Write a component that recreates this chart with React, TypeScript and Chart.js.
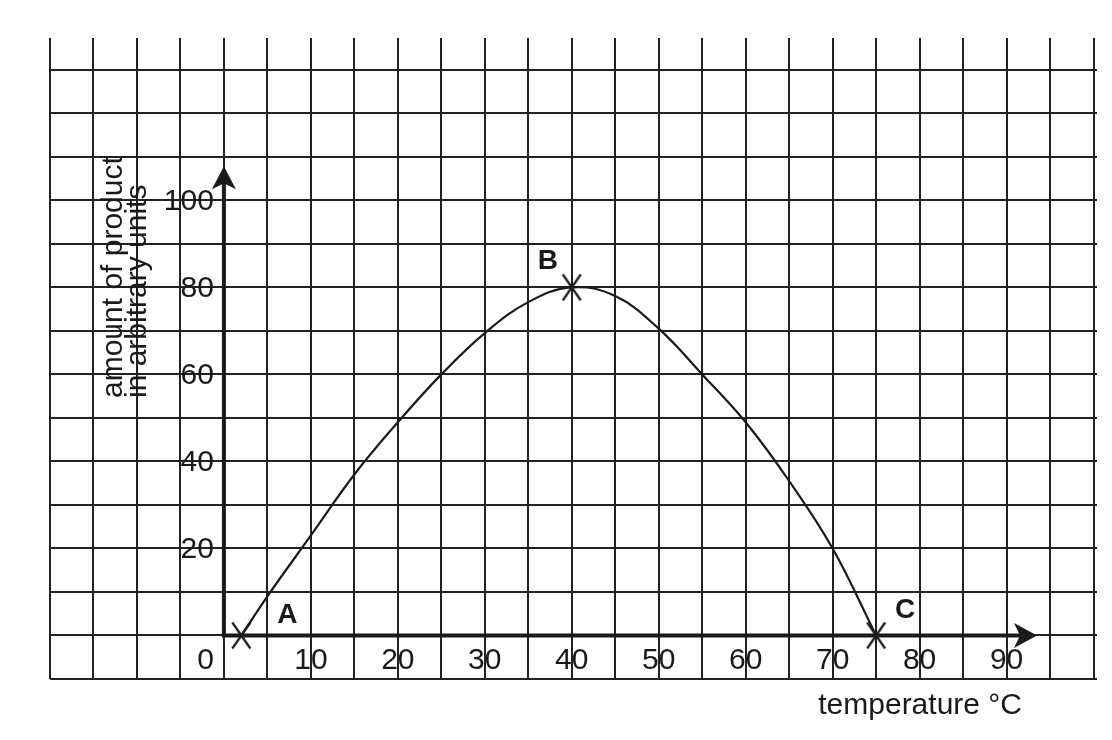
import React, { useEffect, useRef } from "react";
import { Chart, registerables } from "chart.js";

Chart.register(...registerables);

// Curve (temperature °C, amount of product)
const curveX = [2, 5, 10, 15, 20, 25, 30, 35, 40, 45, 50, 55, 60, 65, 70, 75];
const curveY = [0, 9, 23, 37, 49, 60, 69.5, 76.6, 80, 78, 70.5, 60, 49, 35.5, 20, 0];

// Marked points A, B, C
const markLabels = ["A", "B", "C"];
const markX = [2, 40, 75];
const markY = [0, 80, 0];

// Axis tick labels
const xTickLabels = [10, 20, 30, 40, 50, 60, 70, 80, 90];
const yTickLabels = [20, 40, 60, 80, 100];
const originLabel = "0";
const xTitle = "temperature °C";
const yTitleLines = ["amount of product", "in arbitrary units"];

// Extent of the graph paper and the axes
const xMin = -20;
const xMax = 100.4;
const yMin = -10;
const yMax = 137.3;
const xArrowEnd = 93.5;
const yArrowEnd = 107.8;

const INK = "#1a1a1a";
const FONT = '"Liberation Sans", Arial, Helvetica, sans-serif';

function makeCross(): HTMLCanvasElement {
  const c = document.createElement("canvas");
  c.width = 21;
  c.height = 29;
  const g = c.getContext("2d")!;
  g.strokeStyle = INK;
  g.lineWidth = 2.2;
  g.lineCap = "butt";
  g.beginPath();
  g.moveTo(1.5, 1.5);
  g.lineTo(19.5, 27.5);
  g.moveTo(19.5, 1.5);
  g.lineTo(1.5, 27.5);
  g.stroke();
  return c;
}

const axesPlugin = {
  id: "axesPlugin",
  beforeDatasetsDraw(chart: any) {
    const { ctx, scales } = chart;
    const xs = scales.x;
    const ys = scales.y;
    const ox = xs.getPixelForValue(0);
    const oy = ys.getPixelForValue(0);
    const yTop = ys.getPixelForValue(yArrowEnd);
    const xRight = xs.getPixelForValue(xArrowEnd);
    ctx.save();
    ctx.strokeStyle = INK;
    ctx.fillStyle = INK;
    ctx.lineWidth = 4;
    ctx.lineCap = "butt";
    ctx.beginPath();
    ctx.moveTo(ox, yTop + 14);
    ctx.lineTo(ox, oy);
    ctx.lineTo(xRight - 14, oy);
    ctx.stroke();
    // y arrow head
    ctx.beginPath();
    ctx.moveTo(ox, yTop);
    ctx.lineTo(ox + 12, yTop + 23);
    ctx.lineTo(ox, yTop + 17);
    ctx.lineTo(ox - 12, yTop + 23);
    ctx.closePath();
    ctx.fill();
    // x arrow head
    ctx.beginPath();
    ctx.moveTo(xRight, oy);
    ctx.lineTo(xRight - 23, oy - 12.5);
    ctx.lineTo(xRight - 17, oy);
    ctx.lineTo(xRight - 23, oy + 12.5);
    ctx.closePath();
    ctx.fill();
    ctx.restore();
  },
  afterDraw(chart: any) {
    const { ctx, scales } = chart;
    const xs = scales.x;
    const ys = scales.y;
    const ox = xs.getPixelForValue(0);
    const oy = ys.getPixelForValue(0);
    ctx.save();
    ctx.fillStyle = INK;
    ctx.font = `30px ${FONT}`;
    // y tick labels
    ctx.textAlign = "right";
    ctx.textBaseline = "middle";
    yTickLabels.forEach((v) => {
      ctx.fillText(String(v), ox - 10, ys.getPixelForValue(v) + 1);
    });
    ctx.fillText(originLabel, ox - 10, oy + 25);
    // x tick labels
    ctx.textAlign = "center";
    xTickLabels.forEach((v) => {
      ctx.fillText(String(v), xs.getPixelForValue(v), oy + 25);
    });
    // x title
    ctx.textAlign = "right";
    ctx.fillText(xTitle, 1022, 706);
    // y title
    ctx.save();
    ctx.translate(122, 398);
    ctx.rotate(-Math.PI / 2);
    ctx.textAlign = "left";
    ctx.textBaseline = "alphabetic";
    ctx.fillText(yTitleLines[0], 0, 0);
    ctx.fillText(yTitleLines[1], 0, 24);
    ctx.restore();
    // point labels
    ctx.font = `bold 28px ${FONT}`;
    ctx.textAlign = "center";
    ctx.textBaseline = "middle";
    const offsets = [
      [46, -20],
      [-24, -26],
      [29, -25],
    ];
    markLabels.forEach((lab, i) => {
      const px = xs.getPixelForValue(markX[i]);
      const py = ys.getPixelForValue(markY[i]);
      ctx.fillText(lab, px + offsets[i][0], py + offsets[i][1]);
    });
    ctx.restore();
  },
};

export default function App() {
  const ref = useRef<HTMLCanvasElement | null>(null);
  useEffect(() => {
    if (!ref.current) return;
    const cross = makeCross();
    const chart = new Chart(ref.current, {
      type: "line",
      data: {
        datasets: [
          {
            data: curveX.map((x, i) => ({ x, y: curveY[i] })),
            borderColor: INK,
            borderWidth: 2.2,
            pointRadius: 0,
            tension: 0.4,
            fill: false,
          },
          {
            data: markX.map((x, i) => ({ x, y: markY[i] })),
            showLine: false,
            pointStyle: cross as any,
            pointRadius: 10,
            borderColor: INK,
          },
        ],
      },
      options: {
        animation: false,
        responsive: false,
        events: [],
        layout: { padding: { left: 50, right: 15, top: 38, bottom: 61 } },
        plugins: { legend: { display: false }, tooltip: { enabled: false } },
        scales: {
          x: {
            type: "linear",
            min: xMin,
            max: xMax,
            ticks: { display: false, stepSize: 5, includeBounds: false },
            grid: { color: "#222", lineWidth: 2, drawTicks: false },
            border: { display: false },
            afterFit: (s: any) => {
              s.height = 0;
            },
          },
          y: {
            type: "linear",
            min: yMin,
            max: yMax,
            ticks: { display: false, stepSize: 10, includeBounds: false },
            grid: { color: "#222", lineWidth: 2, drawTicks: false },
            border: { display: false },
            afterFit: (s: any) => {
              s.width = 0;
            },
          },
        },
      },
      plugins: [axesPlugin],
    });
    return () => chart.destroy();
  }, []);
  return (
    <div style={{ position: "fixed", left: 0, top: 0, width: 1112, height: 740, background: "#fff" }}>
      <canvas ref={ref} width={1112} height={740} style={{ display: "block" }} />
    </div>
  );
}
